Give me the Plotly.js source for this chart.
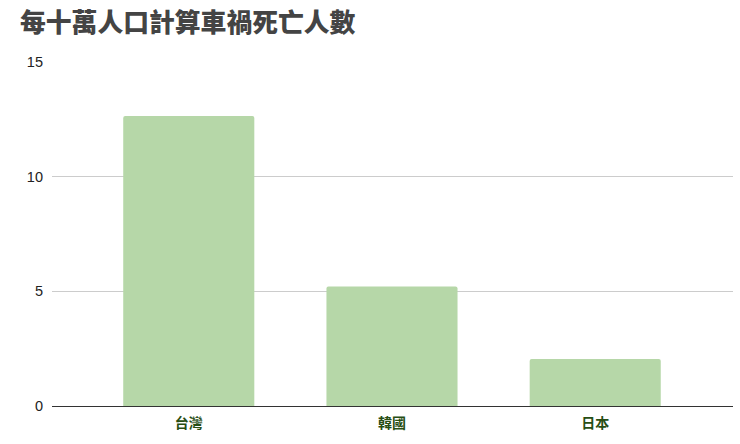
<!DOCTYPE html>
<html>
<head>
<meta charset="utf-8">
<script src="https://cdn.plot.ly/plotly-3.0.1.min.js"></script>
<style>
  html, body { margin: 0; padding: 0; background: #fff; }
  #chart { width: 740px; height: 444px; }
</style>
</head>
<body>
<div id="chart"></div>
<script>
// data
var countries = ['台灣', '韓國', '日本'];
var deathsPer100k = [12.64, 5.21, 2.05];
var yTicks = [0, 5, 10, 15];

var CHART = document.getElementById('chart');

var trace = {
  x: countries,
  y: deathsPer100k,
  type: 'bar',
  width: 0.645,
  marker: {color: '#b6d7a8', line: {width: 0}},
  hoverinfo: 'none'
};

var layout = {
  width: 740,
  height: 444,
  margin: {l: 52, r: 7, t: 62, b: 38},
  paper_bgcolor: '#ffffff',
  plot_bgcolor: '#ffffff',
  showlegend: false,
  barcornerradius: 2,
  font: {family: 'Liberation Sans, Arial, sans-serif', size: 14, color: '#222222'},
  title: {
    text: '每十萬人口計算車禍死亡人數',
    font: {family: 'Noto Sans CJK TC, sans-serif', size: 25.8, color: '#444444', weight: 900},
    x: 20 / 740, xref: 'container', xanchor: 'left',
    y: 1 - 23 / 444, yref: 'container', yanchor: 'middle'
  },
  xaxis: {
    type: 'category',
    range: [-0.673, 2.678],
    showgrid: false,
    zeroline: false,
    showline: true,
    linecolor: '#333333',
    linewidth: 1,
    ticks: '',
    ticklabelstandoff: 4,
    tickfont: {family: 'Noto Sans CJK TC, sans-serif', size: 14, color: '#274e13', weight: 'bold'}
  },
  yaxis: {
    range: [0, 15],
    tickvals: yTicks,
    ticktext: yTicks.map(String),
    showgrid: true,
    gridcolor: '#cccccc',
    zeroline: false,
    showline: false,
    ticks: '',
    ticklabelstandoff: 8,
    tickfont: {size: 14.5, color: '#222222'}
  }
};

Plotly.newPlot(CHART, [trace], layout, {displayModeBar: false, staticPlot: true});
</script>
</body>
</html>
